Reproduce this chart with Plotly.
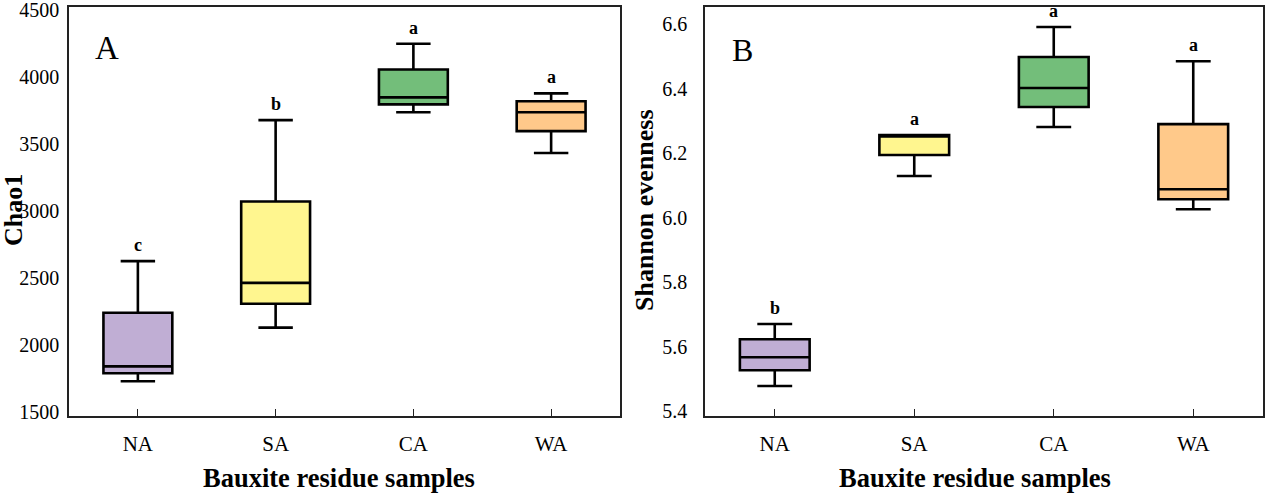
import plotly.graph_objects as go

categories = ["NA", "SA", "CA", "WA"]
colors = ["#C0AED4", "#FFF68F", "#73BE7A", "#FFC98A"]

# Panel A: Chao1
chao_low = [1730, 2130, 3739, 3435]
chao_q1 = [1789, 2308, 3798, 3598]
chao_med = [1841, 2464, 3850, 3739]
chao_q3 = [2241, 3072, 4058, 3821]
chao_high = [2627, 3680, 4251, 3880]
chao_letters = ["c", "b", "a", "a"]
chao_ticks = [1500, 2000, 2500, 3000, 3500, 4000, 4500]

# Panel B: Shannon evenness
sh_low = [5.478, 6.129, 6.281, 6.026]
sh_q1 = [5.527, 6.194, 6.343, 6.057]
sh_med = [5.567, 6.252, 6.402, 6.088]
sh_q3 = [5.623, 6.256, 6.498, 6.290]
sh_high = [5.670, 6.256, 6.591, 6.485]
sh_letters = ["b", "a", "a", "a"]
sh_ticks = [5.4, 5.6, 5.8, 6.0, 6.2, 6.4, 6.6]

FONT = "Liberation Serif, Times New Roman, serif"
W, H = 1266, 494

fig = go.Figure()

def add_boxes(xa, ya, low, q1, med, q3, high):
    for i, c in enumerate(categories):
        fig.add_trace(go.Box(
            x=[c], q1=[q1[i]], median=[med[i]], q3=[q3[i]],
            lowerfence=[low[i]], upperfence=[high[i]],
            fillcolor=colors[i], line=dict(color="black", width=2.6),
            width=0.5, whiskerwidth=0.5, boxpoints=False,
            xaxis=xa, yaxis=ya, showlegend=False, hoverinfo="skip"))

add_boxes("x", "y", chao_low, chao_q1, chao_med, chao_q3, chao_high)
add_boxes("x2", "y2", sh_low, sh_q1, sh_med, sh_q3, sh_high)

annotations = []
for i, c in enumerate(categories):
    annotations.append(dict(x=c, y=chao_high[i], xref="x", yref="y", text=f"<b>{chao_letters[i]}</b>",
                            showarrow=False, yshift=16, font=dict(family=FONT, size=18, color="black"),
                            xanchor="center", yanchor="middle"))
    annotations.append(dict(x=c, y=sh_high[i], xref="x2", yref="y2", text=f"<b>{sh_letters[i]}</b>",
                            showarrow=False, yshift=16, font=dict(family=FONT, size=18, color="black"),
                            xanchor="center", yanchor="middle"))

def paper_text(px, py, text, size, angle=0):
    return dict(x=px / W, y=1 - py / H, xref="paper", yref="paper", text=text,
                showarrow=False, textangle=angle, xanchor="center", yanchor="middle",
                font=dict(family=FONT, size=size, color="black"))

# Panel letters
annotations.append(paper_text(107, 48, "A", 33))
annotations.append(paper_text(742, 50, "B", 32))

# Axis titles
annotations.append(paper_text(339, 478, "<b>Bauxite residue samples</b>", 26.5))
annotations.append(paper_text(975, 478, "<b>Bauxite residue samples</b>", 26.5))
annotations.append(paper_text(13, 210, "<b>Chao1</b>", 26, -90))
annotations.append(paper_text(644, 210, "<b>Shannon evenness</b>", 26, -90))

xcommon = dict(type="category", categoryorder="array", categoryarray=categories,
               range=[-0.5, 3.5], showline=True, mirror=True, linecolor="#222", linewidth=1.5,
               ticks="inside", ticklen=7, tickwidth=1, tickcolor="#222", showgrid=False,
               zeroline=False, tickfont=dict(family=FONT, size=21, color="black"),
               ticklabelstandoff=8, automargin=False)
ycommon = dict(showline=True, mirror=True, linecolor="#222", linewidth=1.5,
               ticks="", showgrid=False, zeroline=False, automargin=False,
               ticklabeloverflow="allow",
               tickfont=dict(family=FONT, size=20, color="black"))

fig.update_layout(
    template="none",
    width=W, height=H, margin=dict(l=0, r=0, t=0, b=0, pad=0),
    plot_bgcolor="white", paper_bgcolor="white", boxmode="overlay",
    xaxis=dict(domain=[69 / W, 620 / W], anchor="y", **xcommon),
    xaxis2=dict(domain=[705 / W, 1263 / W], anchor="y2", **xcommon),
    yaxis=dict(domain=[1 - 416 / H, 1 - 7 / H], anchor="x", range=[1470, 4525],
               tickvals=chao_ticks, ticktext=[str(t) for t in chao_ticks],
               ticklabelstandoff=4, **ycommon),
    yaxis2=dict(domain=[1 - 416 / H, 1 - 7 / H], anchor="x2", range=[5.385, 6.653],
                tickvals=sh_ticks, ticktext=[f"{t:.1f}" for t in sh_ticks],
                ticklabelstandoff=12, **ycommon),
    annotations=annotations,
)

fig.write_html("out.html", config={"displayModeBar": False},
               post_script="document.body.style.margin='0';document.body.style.overflow='hidden';")
